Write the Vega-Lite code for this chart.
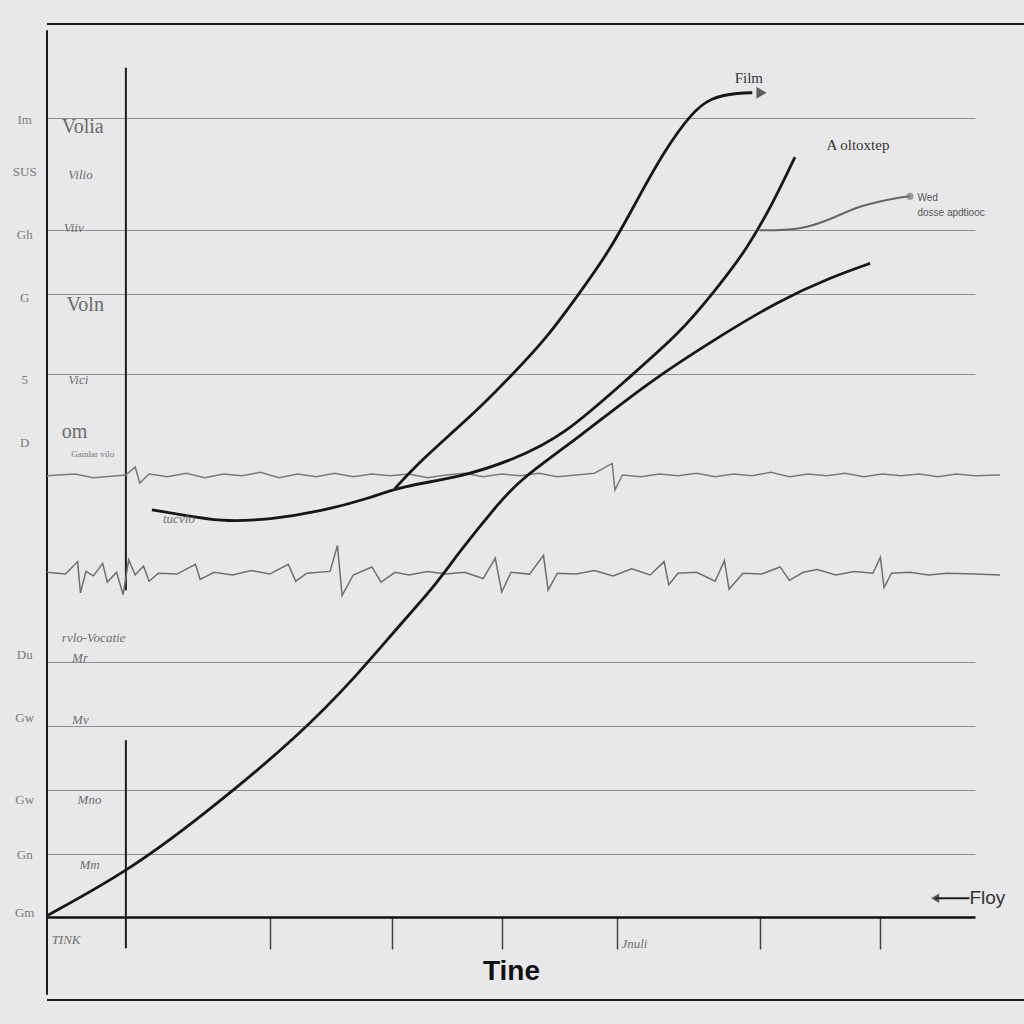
{
  "$schema": "https://vega.github.io/schema/vega-lite/v6.json",
  "width": 928,
  "height": 893,
  "autosize": {"type": "none"},
  "padding": {"left": 47, "top": 24, "right": 49, "bottom": 107},
  "background": "#e8e8ea",
  "config": {"view": {"stroke": null}},
  "datasets": {
    "curves": [
      {"series": "Long", "t": 0.1, "v": 0.2}, {"series": "Long", "t": 8.5, "v": 5.0}, {"series": "Long", "t": 16.5, "v": 11.1},
      {"series": "Long", "t": 27.3, "v": 20.4}, {"series": "Long", "t": 33.7, "v": 27.4}, {"series": "Long", "t": 38.0, "v": 32.7},
      {"series": "Long", "t": 41.6, "v": 36.8}, {"series": "Long", "t": 44.5, "v": 41.0}, {"series": "Long", "t": 48.8, "v": 46.5},
      {"series": "Long", "t": 51.0, "v": 49.0}, {"series": "Long", "t": 57.4, "v": 53.8}, {"series": "Long", "t": 64.7, "v": 59.8},
      {"series": "Long", "t": 71.8, "v": 64.6}, {"series": "Long", "t": 79.0, "v": 69.1}, {"series": "Long", "t": 84.4, "v": 71.6},
      {"series": "Long", "t": 88.7, "v": 73.2},
      {"series": "Film", "t": 37.5, "v": 48.0}, {"series": "Film", "t": 40.2, "v": 51.0}, {"series": "Film", "t": 43.4, "v": 54.0},
      {"series": "Film", "t": 46.7, "v": 57.1}, {"series": "Film", "t": 50.2, "v": 60.8}, {"series": "Film", "t": 53.9, "v": 64.9},
      {"series": "Film", "t": 57.4, "v": 69.9}, {"series": "Film", "t": 60.7, "v": 74.7}, {"series": "Film", "t": 63.9, "v": 80.9},
      {"series": "Film", "t": 66.6, "v": 85.9}, {"series": "Film", "t": 69.3, "v": 89.8}, {"series": "Film", "t": 71.4, "v": 91.8},
      {"series": "Film", "t": 74.7, "v": 92.3}, {"series": "Film", "t": 76.0, "v": 92.3},
      {"series": "U", "t": 11.3, "v": 45.6}, {"series": "U", "t": 16.5, "v": 44.7}, {"series": "U", "t": 19.2, "v": 44.3},
      {"series": "U", "t": 24.0, "v": 44.5}, {"series": "U", "t": 29.4, "v": 45.4}, {"series": "U", "t": 34.8, "v": 46.9},
      {"series": "U", "t": 38.0, "v": 48.2}, {"series": "U", "t": 44.8, "v": 49.3}, {"series": "U", "t": 50.2, "v": 51.2},
      {"series": "U", "t": 55.6, "v": 53.8}, {"series": "U", "t": 62.8, "v": 60.5}, {"series": "U", "t": 68.2, "v": 65.4},
      {"series": "U", "t": 71.8, "v": 69.9}, {"series": "U", "t": 75.4, "v": 74.7}, {"series": "U", "t": 78.4, "v": 80.3},
      {"series": "U", "t": 80.6, "v": 85.1}
    ],
    "grey": [
      {"t": 76.8, "v": 76.9}, {"t": 81.1, "v": 76.9}, {"t": 84.4, "v": 78.1}, {"t": 87.6, "v": 79.7}, {"t": 91.9, "v": 80.6}, {"t": 93.0, "v": 80.7}
    ],
    "noiseTop": [
      {"t": 0, "v": 49.4}, {"t": 3, "v": 49.6}, {"t": 5, "v": 49.2}, {"t": 8.5, "v": 49.5}, {"t": 9.5, "v": 50.4}, {"t": 10, "v": 48.6},
      {"t": 11, "v": 49.6}, {"t": 13, "v": 49.3}, {"t": 15, "v": 49.7}, {"t": 17, "v": 49.2}, {"t": 19, "v": 49.6}, {"t": 21, "v": 49.4},
      {"t": 23, "v": 49.8}, {"t": 25, "v": 49.2}, {"t": 27, "v": 49.6}, {"t": 29, "v": 49.3}, {"t": 31, "v": 49.7}, {"t": 33, "v": 49.3},
      {"t": 35, "v": 49.6}, {"t": 37, "v": 49.4}, {"t": 39, "v": 49.6}, {"t": 41, "v": 49.2}, {"t": 43, "v": 49.5}, {"t": 45, "v": 49.7},
      {"t": 47, "v": 49.3}, {"t": 49, "v": 49.6}, {"t": 51, "v": 49.4}, {"t": 53, "v": 49.7}, {"t": 55, "v": 49.3}, {"t": 57, "v": 49.5},
      {"t": 59, "v": 49.7}, {"t": 60.9, "v": 50.8}, {"t": 61.2, "v": 47.8}, {"t": 62, "v": 49.5}, {"t": 64, "v": 49.3}, {"t": 66, "v": 49.6},
      {"t": 68, "v": 49.4}, {"t": 70, "v": 49.7}, {"t": 72, "v": 49.3}, {"t": 74, "v": 49.6}, {"t": 76, "v": 49.4}, {"t": 78, "v": 49.8},
      {"t": 80, "v": 49.3}, {"t": 82, "v": 49.6}, {"t": 84, "v": 49.4}, {"t": 86, "v": 49.7}, {"t": 88, "v": 49.3}, {"t": 90, "v": 49.6},
      {"t": 92, "v": 49.4}, {"t": 94, "v": 49.6}, {"t": 96, "v": 49.3}, {"t": 98, "v": 49.6}, {"t": 100, "v": 49.4}, {"t": 102.7, "v": 49.5}
    ],
    "noiseBottom": [
      {"t": 0, "v": 38.6}, {"t": 2, "v": 38.4}, {"t": 3.3, "v": 39.8}, {"t": 3.6, "v": 36.3}, {"t": 4.2, "v": 38.7}, {"t": 5, "v": 38.2},
      {"t": 6, "v": 39.6}, {"t": 6.5, "v": 37.5}, {"t": 7.5, "v": 38.6}, {"t": 8.2, "v": 36.1}, {"t": 8.8, "v": 40.0}, {"t": 9.5, "v": 38.3},
      {"t": 10.4, "v": 39.3}, {"t": 11, "v": 37.6}, {"t": 12, "v": 38.5}, {"t": 14, "v": 38.4}, {"t": 16, "v": 39.5}, {"t": 16.5, "v": 37.8},
      {"t": 18, "v": 38.6}, {"t": 20, "v": 38.3}, {"t": 22, "v": 38.8}, {"t": 24, "v": 38.4}, {"t": 26, "v": 39.5}, {"t": 26.8, "v": 37.6},
      {"t": 28, "v": 38.5}, {"t": 30.5, "v": 38.7}, {"t": 31.3, "v": 41.6}, {"t": 31.8, "v": 36.0}, {"t": 33, "v": 38.3}, {"t": 35, "v": 39.2},
      {"t": 36, "v": 37.5}, {"t": 37.5, "v": 38.6}, {"t": 39, "v": 38.3}, {"t": 41, "v": 38.7}, {"t": 43, "v": 38.4}, {"t": 45, "v": 38.6},
      {"t": 47, "v": 37.9}, {"t": 48.3, "v": 40.2}, {"t": 49, "v": 36.4}, {"t": 50, "v": 38.6}, {"t": 52, "v": 38.4}, {"t": 53.5, "v": 40.5},
      {"t": 54, "v": 36.6}, {"t": 55, "v": 38.5}, {"t": 57, "v": 38.4}, {"t": 59, "v": 38.8}, {"t": 61, "v": 38.2}, {"t": 63, "v": 39.0},
      {"t": 65, "v": 38.3}, {"t": 66.5, "v": 39.8}, {"t": 67, "v": 37.2}, {"t": 68, "v": 38.5}, {"t": 70, "v": 38.6}, {"t": 72, "v": 37.6},
      {"t": 73, "v": 39.9}, {"t": 73.5, "v": 36.7}, {"t": 75, "v": 38.5}, {"t": 77, "v": 38.4}, {"t": 79, "v": 39.2}, {"t": 80, "v": 37.7},
      {"t": 81.5, "v": 38.6}, {"t": 83, "v": 38.9}, {"t": 85, "v": 38.3}, {"t": 87, "v": 38.7}, {"t": 89, "v": 38.5}, {"t": 89.8, "v": 40.3},
      {"t": 90.2, "v": 36.9}, {"t": 91, "v": 38.5}, {"t": 93, "v": 38.6}, {"t": 95, "v": 38.3}, {"t": 97, "v": 38.5}, {"t": 100, "v": 38.4},
      {"t": 102.7, "v": 38.3}
    ],
    "frame": [
      {"t": 0, "t2": 105.3, "v": 100, "v2": 100},
      {"t": 0, "t2": 105.3, "v": -9.3, "v2": -9.3},
      {"t": 0, "t2": 0, "v": 99.3, "v2": -8.7},
      {"t": 8.5, "t2": 8.5, "v": 95.1, "v2": 36.6},
      {"t": 8.5, "t2": 8.5, "v": 19.8, "v2": -3.5},
      {"t": 95.7, "t2": 99.4, "v": 2.1, "v2": 2.1}
    ],
    "leftLabels": [
      {"t": -2.4, "v": 89.2, "label": "Im"}, {"t": -2.4, "v": 83.4, "label": "SUS"}, {"t": -2.4, "v": 76.4, "label": "Gh"},
      {"t": -2.4, "v": 69.3, "label": "G"}, {"t": -2.4, "v": 60.1, "label": "5"}, {"t": -2.4, "v": 53.1, "label": "D"},
      {"t": -2.4, "v": 29.3, "label": "Du"}, {"t": -2.4, "v": 22.3, "label": "Gw"}, {"t": -2.4, "v": 13.1, "label": "Gw"},
      {"t": -2.4, "v": 6.9, "label": "Gn"}, {"t": -2.4, "v": 0.4, "label": "Gm"}
    ],
    "innerSmall": [
      {"t": 2.3, "v": 83.1, "label": "Vilio"}, {"t": 1.8, "v": 77.2, "label": "Viiv"}, {"t": 2.3, "v": 60.1, "label": "Vici"},
      {"t": 2.7, "v": 29.0, "label": "Mr"}, {"t": 2.7, "v": 22.1, "label": "Mv"}, {"t": 3.3, "v": 13.1, "label": "Mno"},
      {"t": 3.5, "v": 5.8, "label": "Mm"}, {"t": 1.6, "v": 31.2, "label": "rvlo-Vocatie"},
      {"t": 0.5, "v": -2.6, "label": "TINK"}, {"t": 61.9, "v": -3.0, "label": "Jnuli"}, {"t": 12.5, "v": 44.6, "label": "tucvlo"}
    ],
    "tinyLeft": [
      {"t": 2.6, "v": 51.8, "label": "Gainlar vilo"}
    ],
    "innerBig": [
      {"t": 1.6, "v": 88.5, "label": "Volia"}, {"t": 2.1, "v": 68.5, "label": "Voln"}, {"t": 1.6, "v": 54.3, "label": "om"}
    ],
    "annotations": [
      {"t": 74.1, "v": 94.0, "label": "Film"}, {"t": 84.0, "v": 86.5, "label": "A oltoxtep"}
    ],
    "tinyNotes": [
      {"t": 93.8, "v": 80.5, "label": "Wed"}, {"t": 93.8, "v": 78.8, "label": "dosse apdtiooc"}
    ],
    "floy": [{"t": 99.4, "v": 2.1, "label": "Floy"}],
    "heads": [{"t": 77.0, "v": 92.3}],
    "headsLeft": [{"t": 95.7, "v": 2.1}],
    "dot": [{"t": 93.0, "v": 80.7}]
  },
  "encoding": {
    "x": {"field": "t", "type": "quantitative", "scale": {"domain": [0, 100], "nice": false, "zero": false}},
    "y": {"field": "v", "type": "quantitative", "scale": {"domain": [0, 100], "nice": false, "zero": false}}
  },
  "layer": [
    {
      "data": {"name": "frame"},
      "mark": {"type": "rule", "color": "#1c1c1c", "strokeWidth": 2, "clip": false},
      "encoding": {
        "x": {"field": "t", "type": "quantitative", "title": "Tine",
          "axis": {"values": [24.0, 37.2, 49.0, 61.4, 76.8, 89.8], "labels": false, "tickSize": 32, "tickColor": "#444", "tickWidth": 1.5,
            "domainColor": "#111", "domainWidth": 2.5, "grid": false,
            "titleFont": "Liberation Sans", "titleFontSize": 28, "titleFontWeight": "bold", "titleColor": "#111",
            "titleX": 464, "titleY": 54, "titleBaseline": "middle"}},
        "x2": {"field": "t2"},
        "y": {"field": "v", "type": "quantitative", "title": null,
          "axis": {"values": [89.5, 76.9, 69.8, 60.8, 28.6, 21.4, 14.2, 7.1], "labels": false, "ticks": false, "domain": false,
            "grid": true, "gridColor": "#8e8e8e", "gridWidth": 1.2}},
        "y2": {"field": "v2"}
      }
    },
    {
      "data": {"name": "noiseTop"},
      "mark": {"type": "line", "color": "#7a7a7a", "strokeWidth": 1.5, "clip": false},
      "encoding": {}
    },
    {
      "data": {"name": "noiseBottom"},
      "mark": {"type": "line", "color": "#6e6e6e", "strokeWidth": 1.5, "clip": false},
      "encoding": {}
    },
    {
      "data": {"name": "grey"},
      "mark": {"type": "line", "color": "#666", "strokeWidth": 2, "interpolate": "basis"},
      "encoding": {}
    },
    {
      "data": {"name": "dot"},
      "mark": {"type": "point", "filled": true, "color": "#777", "size": 50},
      "encoding": {}
    },
    {
      "data": {"name": "curves"},
      "mark": {"type": "line", "color": "#161616", "strokeWidth": 2.8, "interpolate": "basis"},
      "encoding": {"detail": {"field": "series"}}
    },
    {
      "data": {"name": "heads"},
      "mark": {"type": "point", "shape": "triangle-right", "filled": true, "color": "#222", "size": 140},
      "encoding": {}
    },
    {
      "data": {"name": "headsLeft"},
      "mark": {"type": "point", "shape": "triangle-left", "filled": true, "color": "#222", "size": 90, "clip": false},
      "encoding": {}
    },
    {
      "data": {"name": "leftLabels"},
      "mark": {"type": "text", "font": "Liberation Serif", "fontSize": 13, "color": "#7a7a7a", "align": "center", "baseline": "middle", "clip": false},
      "encoding": {"text": {"field": "label"}}
    },
    {
      "data": {"name": "innerSmall"},
      "mark": {"type": "text", "font": "Liberation Serif", "fontSize": 13, "fontStyle": "italic", "color": "#6e6e6e", "align": "left", "baseline": "middle", "clip": false},
      "encoding": {"text": {"field": "label"}}
    },
    {
      "data": {"name": "tinyLeft"},
      "mark": {"type": "text", "font": "Liberation Serif", "fontSize": 9, "color": "#777", "align": "left", "baseline": "middle"},
      "encoding": {"text": {"field": "label"}}
    },
    {
      "data": {"name": "innerBig"},
      "mark": {"type": "text", "font": "Liberation Serif", "fontSize": 20, "color": "#6a6a6a", "align": "left", "baseline": "middle"},
      "encoding": {"text": {"field": "label"}}
    },
    {
      "data": {"name": "annotations"},
      "mark": {"type": "text", "font": "Liberation Serif", "fontSize": 15, "color": "#333", "align": "left", "baseline": "middle"},
      "encoding": {"text": {"field": "label"}}
    },
    {
      "data": {"name": "tinyNotes"},
      "mark": {"type": "text", "font": "Liberation Sans", "fontSize": 10, "color": "#555", "align": "left", "baseline": "middle"},
      "encoding": {"text": {"field": "label"}}
    },
    {
      "data": {"name": "floy"},
      "mark": {"type": "text", "font": "Liberation Sans", "fontSize": 19, "color": "#333", "align": "left", "baseline": "middle", "clip": false},
      "encoding": {"text": {"field": "label"}}
    }
  ]
}
